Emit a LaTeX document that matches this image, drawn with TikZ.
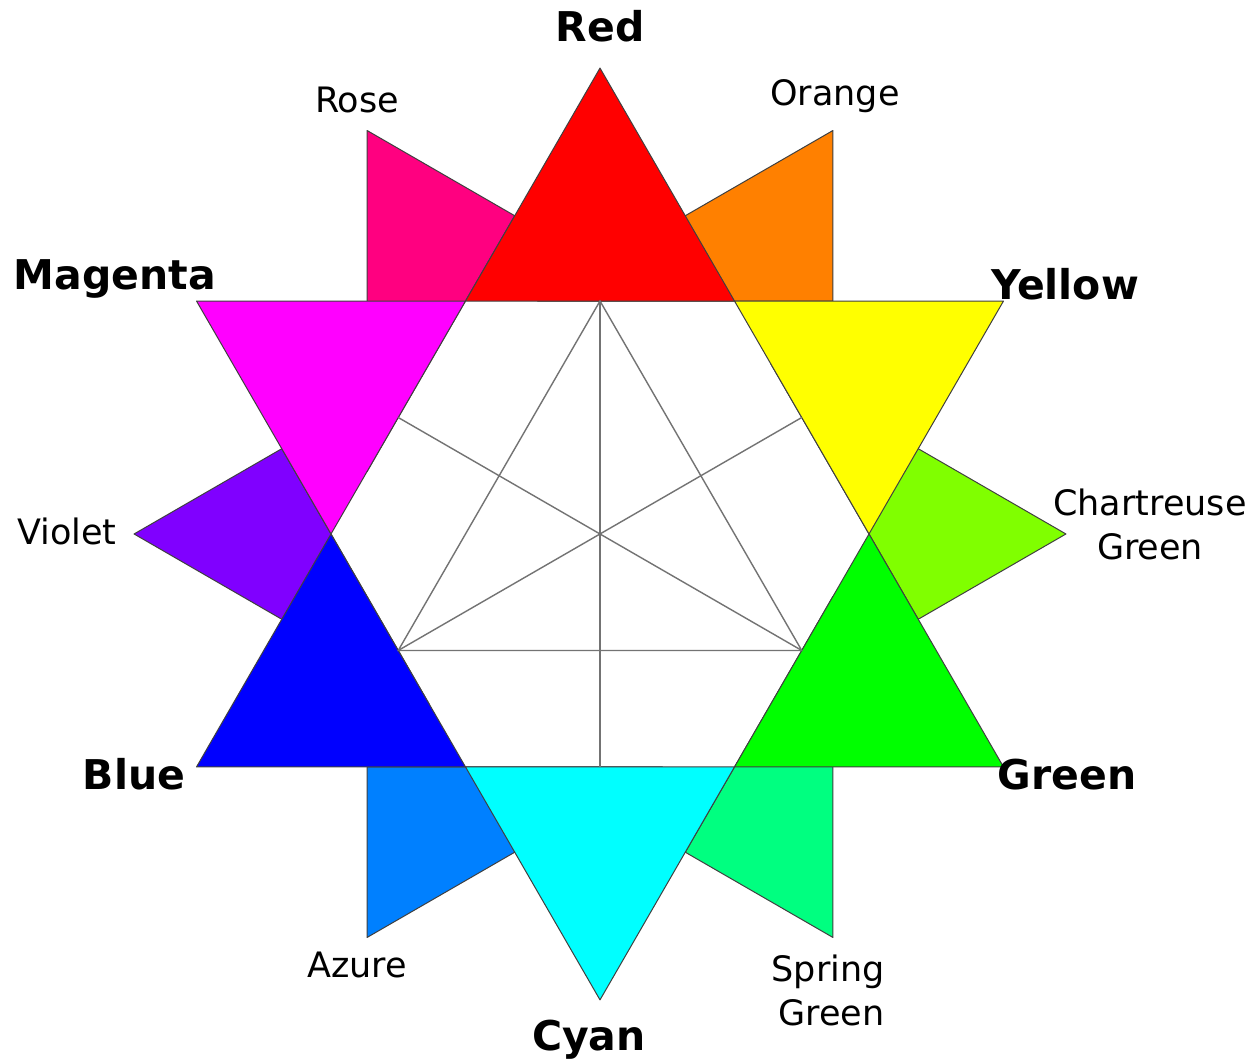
\documentclass[tikz,border=0pt]{standalone}
\usepackage{fontspec}
\setmainfont{DejaVu Sans}
\definecolor{cRed}{RGB}{255,0,0}
\definecolor{cOrange}{RGB}{255,128,0}
\definecolor{cYellow}{RGB}{255,255,0}
\definecolor{cChart}{RGB}{128,255,0}
\definecolor{cGreen}{RGB}{0,255,0}
\definecolor{cSpring}{RGB}{0,255,128}
\definecolor{cCyan}{RGB}{0,255,255}
\definecolor{cAzure}{RGB}{0,128,255}
\definecolor{cBlue}{RGB}{0,0,255}
\definecolor{cViolet}{RGB}{128,0,255}
\definecolor{cMagenta}{RGB}{255,0,255}
\definecolor{cRose}{RGB}{255,0,128}
\begin{document}
\begin{tikzpicture}[x=0.5pt,y=0.5pt,
  tri/.style={draw=black!75, line width=0.5pt, line join=round},
  innerline/.style={draw=black!55, line width=0.7pt},
  biglabel/.style={font=\fontsize{20.5}{24}\selectfont\bfseries, inner sep=0pt, anchor=base},
  smalllabel/.style={font=\fontsize{17.5}{22}\selectfont, inner sep=0pt, align=center}]
\path[use as bounding box, fill=white] (0,0) rectangle (1255,1063);
\coordinate (C) at (600,529);
% small (tertiary) triangles
\foreach \a/\c in {0/cOrange,-60/cChart,-120/cSpring,-180/cAzure,120/cViolet,60/cRose}{
  \begin{scope}[shift={(C)},rotate=\a]
    \filldraw[tri,fill=\c] (232.96,403.5) -- (232.96,232.96) -- (-62.42,232.96) -- cycle;
  \end{scope}
}
% big (primary/secondary) triangles
\foreach \k/\c in {1/cRed,0/cYellow,-1/cGreen,-2/cCyan,-3/cBlue,2/cMagenta}{
  \begin{scope}[shift={(C)}]
    \filldraw[tri,fill=\c] ({60*\k}:269) -- ({60*\k+60}:269) -- ({60*\k+30}:465.9) -- cycle;
  \end{scope}
}
% inner lines
\begin{scope}[shift={(C)}]
  \coordinate (m90) at (90:232.96);
  \coordinate (m270) at (270:232.96);
  \coordinate (m30) at (30:232.96);
  \coordinate (m210) at (210:232.96);
  \coordinate (m150) at (150:232.96);
  \coordinate (m330) at (330:232.96);
\end{scope}
\draw[innerline] (m90) -- (m270);
\draw[innerline] (m30) -- (m210);
\draw[innerline] (m150) -- (m330);
\draw[innerline] (m90) -- (m210) -- (m330) -- cycle;
% labels
\node[biglabel] (lRed) at (600,1021) {Red};
\node[biglabel] (lMagenta) at (115,773) {Magenta};
\node[biglabel] (lYellow) at (1065,763) {Yellow};
\node[biglabel] (lBlue) at (134,273) {Blue};
\node[biglabel] (lGreen) at (1067,273) {Green};
\node[biglabel] (lCyan) at (589,12) {Cyan};
\node[smalllabel, anchor=base] (lRose) at (357,950) {Rose};
\node[smalllabel, anchor=base] (lOrange) at (835,957) {Orange};
\node[smalllabel, anchor=base] (lViolet) at (67,518) {Violet};
\node[smalllabel, anchor=base] (lAzure) at (357,85) {Azure};
\node[smalllabel] (lChart) at (1150,539) {Chartreuse\\Green};
\node[smalllabel, align=right, anchor=east] (lSpring) at (885,73) {Spring\\Green};
\end{tikzpicture}
\end{document}
